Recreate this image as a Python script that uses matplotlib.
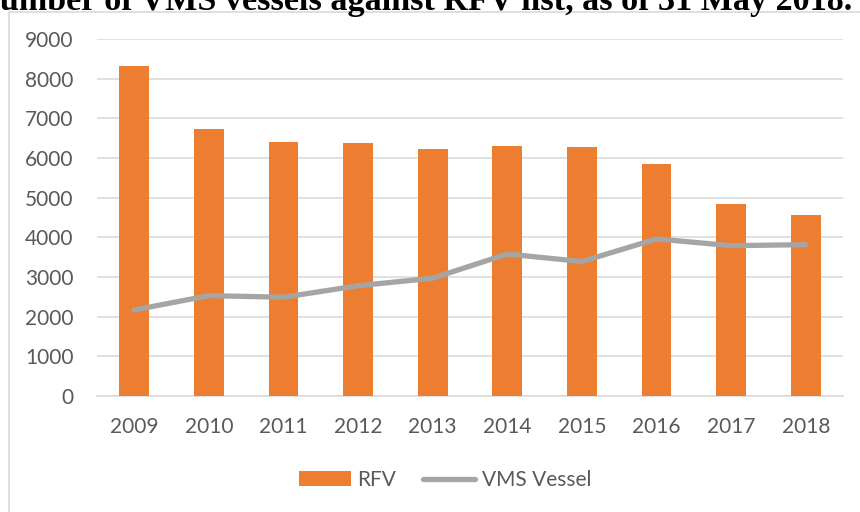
import matplotlib
matplotlib.use("Agg")
import matplotlib.pyplot as plt
from matplotlib.patches import Rectangle, Patch
from matplotlib.lines import Line2D

years = ["2009", "2010", "2011", "2012", "2013", "2014", "2015", "2016", "2017", "2018"]
rfv = [8320, 6720, 6400, 6390, 6220, 6300, 6270, 5850, 4830, 4555]
vms = [2170, 2530, 2490, 2780, 2970, 3580, 3390, 3960, 3790, 3815]
yticks = [0, 1000, 2000, 3000, 4000, 5000, 6000, 7000, 8000, 9000]
title = "Number of VMS vessels against RFV list, as of 31 May 2018."

W, H = 860, 512
plt.rcParams['font.family'] = ['Lato', 'DejaVu Sans']
fig = plt.figure(figsize=(W / 100, H / 100), dpi=100)

def fx(px):
    return px / W

def fy(py):
    return 1 - py / H

# chart frame (extends beyond canvas at right and bottom)
fig.patches.append(Rectangle((fx(9), fy(H + 20)), fx(W + 20), fy(12) - fy(H + 20),
                             transform=fig.transFigure, fill=False,
                             edgecolor='#d9d9d9', linewidth=1.2, zorder=0))

ax = fig.add_axes([fx(97), fy(396), fx(843) - fx(97), fy(39) - fy(396)])
x = list(range(len(years)))
ax.bar(x, rfv, width=0.4, color='#ED7D31', zorder=2)
ax.plot(x, vms, color='#A5A5A5', linewidth=3.8, solid_capstyle='round', zorder=3)
ax.set_xlim(-0.5, len(years) - 0.5)
ax.set_ylim(0, 9000)
ax.set_yticks(yticks)
ax.set_yticklabels([str(v) for v in yticks])
ax.set_xticks(x)
ax.set_xticklabels(years)
ax.yaxis.grid(True, color='#d9d9d9', linewidth=1.1, zorder=0)
ax.set_axisbelow(True)
for s in ['top', 'right', 'left']:
    ax.spines[s].set_visible(False)
ax.spines['bottom'].set_color('#d9d9d9')
ax.spines['bottom'].set_linewidth(1.1)
ax.spines['bottom'].set_zorder(1)
ax.tick_params(axis='both', length=0, labelsize=15, colors='#595959')
ax.tick_params(axis='y', pad=17)
ax.tick_params(axis='x', pad=15)

handles = [Patch(facecolor='#ED7D31', edgecolor='none'),
           Line2D([0], [0], color='#A5A5A5', linewidth=3.8, solid_capstyle='round')]
fig.legend(handles, ['RFV', 'VMS Vessel'], loc='center', ncol=2,
           bbox_to_anchor=(fx(445), fy(480)), frameon=False, fontsize=15,
           labelcolor='#595959', handlelength=2.5, handletextpad=0.3,
           columnspacing=1.3)

# title, clipped at the top-left of the canvas
t = fig.text(fx(852), fy(10), title, ha='right', va='baseline',
             fontsize=21, fontweight='bold', family=['Liberation Serif'], color='black')
fig.canvas.draw()
r = fig.canvas.get_renderer()
# fit so that "umber ... 2018." spans x=0..852
probe = fig.text(0, 0, title[1:], fontsize=21, fontweight='bold', family=['Liberation Serif'])
wpx = probe.get_window_extent(r).width
probe.remove()
t.set_fontsize(21 * 852 / wpx)

fig.savefig("out.png", dpi=100)
